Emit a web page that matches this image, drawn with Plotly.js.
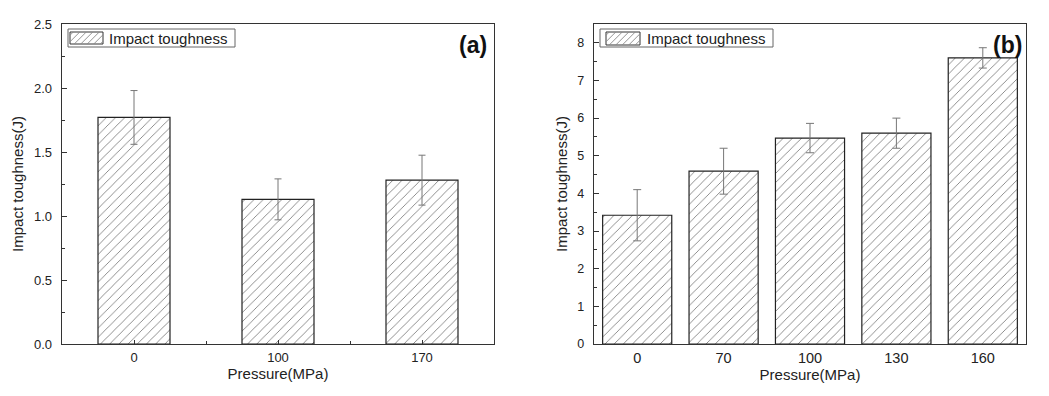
<!DOCTYPE html>
<html>
<head>
<meta charset="utf-8">
<script src="https://cdn.plot.ly/plotly-3.0.1.min.js"></script>
<style>
html,body{margin:0;padding:0;background:#fff;}
#chart{width:1049px;height:396px;}
</style>
</head>
<body>
<div id="chart"></div>
<script>
// ---- data ----
const pressureA = ['0', '100', '170'];
const toughA = [1.77, 1.13, 1.28];
const errA = [0.21, 0.16, 0.195];

const pressureB = ['0', '70', '100', '130', '160'];
const toughB = [3.42, 4.59, 5.47, 5.60, 7.60];
const errB = [0.68, 0.61, 0.39, 0.40, 0.27];

const seriesName = 'Impact toughness';
const panelLabels = ['(a)', '(b)'];
const xTitle = 'Pressure(MPa)';
const yTitle = 'Impact toughness(J)';

// ---- layout helpers ----
const W = 1049, H = 396;
const px = x => x / W;
const py = y => 1 - y / H;
const FONT = '"Liberation Sans", Arial, Helvetica, sans-serif';
const TXT = '#222';

function pattern() {
  return {shape: '/', size: 6.5, solidity: 0.14, fgcolor: '#858585', bgcolor: '#ffffff'};
}

const traceA = {
  type: 'bar', xaxis: 'x', yaxis: 'y',
  x: pressureA.map((_, i) => i), y: toughA,
  width: 0.5,
  marker: {color: '#fff', pattern: pattern(), line: {color: '#222', width: 1.2}},
  error_y: {type: 'data', array: errA, visible: true, color: '#777', thickness: 1, width: 3.5},
  name: seriesName, showlegend: false, hoverinfo: 'skip'
};
const traceB = {
  type: 'bar', xaxis: 'x2', yaxis: 'y2',
  x: pressureB.map((_, i) => i), y: toughB,
  width: 0.8,
  marker: {color: '#fff', pattern: pattern(), line: {color: '#222', width: 1.2}},
  error_y: {type: 'data', array: errB, visible: true, color: '#777', thickness: 1, width: 4},
  name: seriesName, showlegend: false, hoverinfo: 'skip'
};

// hatched legend swatch path (pixel -> paper)
function hatchPath(x0, y0, x1, y1, step) {
  let d = '';
  for (let k = x0 + y0 + step / 2; k < x1 + y1; k += step) {
    const xa = Math.max(x0, k - y1), xb = Math.min(x1, k - y0);
    if (xb <= xa) continue;
    d += `M${px(xa)},${py(k - xa)}L${px(xb)},${py(k - xb)}`;
  }
  return d;
}

function legendShapes(bx0, by0, bx1, by1, sx0, sy0, sx1, sy1) {
  return [
    {type: 'rect', xref: 'paper', yref: 'paper', x0: px(bx0), x1: px(bx1), y0: py(by1), y1: py(by0),
     line: {color: '#666', width: 1}, fillcolor: '#fff', layer: 'above'},
    {type: 'rect', xref: 'paper', yref: 'paper', x0: px(sx0), x1: px(sx1), y0: py(sy1), y1: py(sy0),
     line: {color: '#333', width: 1}, fillcolor: 'rgba(0,0,0,0)', layer: 'above'},
    {type: 'path', xref: 'paper', yref: 'paper', path: hatchPath(sx0, sy0, sx1, sy1, 6.5),
     line: {color: '#888', width: 0.9}, layer: 'above'}
  ];
}

const axisCommon = {
  showline: true, linecolor: '#333', linewidth: 1.4, mirror: true,
  showgrid: false, zeroline: false, ticks: 'inside', tickcolor: '#333', tickwidth: 1,
  fixedrange: true
};

const layout = {
  width: W, height: H,
  margin: {l: 0, r: 0, t: 0, b: 0},
  paper_bgcolor: '#fff', plot_bgcolor: '#fff',
  font: {family: FONT, color: TXT},
  showlegend: false,
  bargap: 0,
  xaxis: Object.assign({}, axisCommon, {
    domain: [px(62), px(494)], anchor: 'y', range: [-0.5, 2.5],
    tickvals: pressureA.map((_, i) => i), ticktext: pressureA,
    ticklen: 4, minor: {dtick: 0.5, ticklen: 3, ticks: 'inside', tickcolor: '#333'},
    tickfont: {size: 13, color: TXT}, ticklabelstandoff: 1,
    title: {text: xTitle, font: {size: 15, color: TXT}, standoff: 2}
  }),
  yaxis: Object.assign({}, axisCommon, {
    domain: [py(344), py(24)], anchor: 'x', range: [0, 2.5],
    dtick: 0.5, tickformat: '.1f', ticklen: 5,
    minor: {dtick: 0.25, ticklen: 3, ticks: 'inside', tickcolor: '#333'},
    tickfont: {size: 13, color: TXT}, ticklabelstandoff: 6,
    title: {text: yTitle, font: {size: 15, color: TXT}, standoff: 6}
  }),
  xaxis2: Object.assign({}, axisCommon, {
    domain: [px(594), px(1026)], anchor: 'y2', range: [-0.5, 4.5],
    tickvals: pressureB.map((_, i) => i), ticktext: pressureB,
    ticks: '', ticklen: 0,
    tickfont: {size: 14.5, color: TXT}, ticklabelstandoff: 0,
    title: {text: xTitle, font: {size: 15, color: TXT}, standoff: 0}
  }),
  yaxis2: Object.assign({}, axisCommon, {
    domain: [py(344), py(24)], anchor: 'x2', range: [0, 8.5],
    dtick: 1, ticklen: 5,
    minor: {dtick: 0.5, ticklen: 3, ticks: 'inside', tickcolor: '#333'},
    tickfont: {size: 12.5, color: TXT}, ticklabelstandoff: 6,
    title: {text: yTitle, font: {size: 15, color: TXT}, standoff: 6}
  }),
  shapes: [].concat(
    legendShapes(68, 29, 235, 47, 70, 32, 103, 44),
    legendShapes(600, 29, 773, 47, 606, 32, 640, 45)
  ),
  annotations: [
    {xref: 'paper', yref: 'paper', x: px(107), y: py(38.5), xanchor: 'left', yanchor: 'middle',
     text: seriesName, showarrow: false, font: {size: 15, color: TXT}},
    {xref: 'paper', yref: 'paper', x: px(645), y: py(38.5), xanchor: 'left', yanchor: 'middle',
     text: seriesName, showarrow: false, font: {size: 15, color: TXT}},
    {xref: 'paper', yref: 'paper', x: px(489), y: py(45), xanchor: 'right', yanchor: 'middle',
     text: '<b>' + panelLabels[0] + '</b>', showarrow: false, font: {size: 23, color: '#111'}},
    {xref: 'paper', yref: 'paper', x: px(1024), y: py(45), xanchor: 'right', yanchor: 'middle',
     text: '<b>' + panelLabels[1] + '</b>', showarrow: false, font: {size: 23, color: '#111'}}
  ]
};

Plotly.newPlot('chart', [traceA, traceB], layout, {staticPlot: true, displayModeBar: false});
</script>
</body>
</html>
